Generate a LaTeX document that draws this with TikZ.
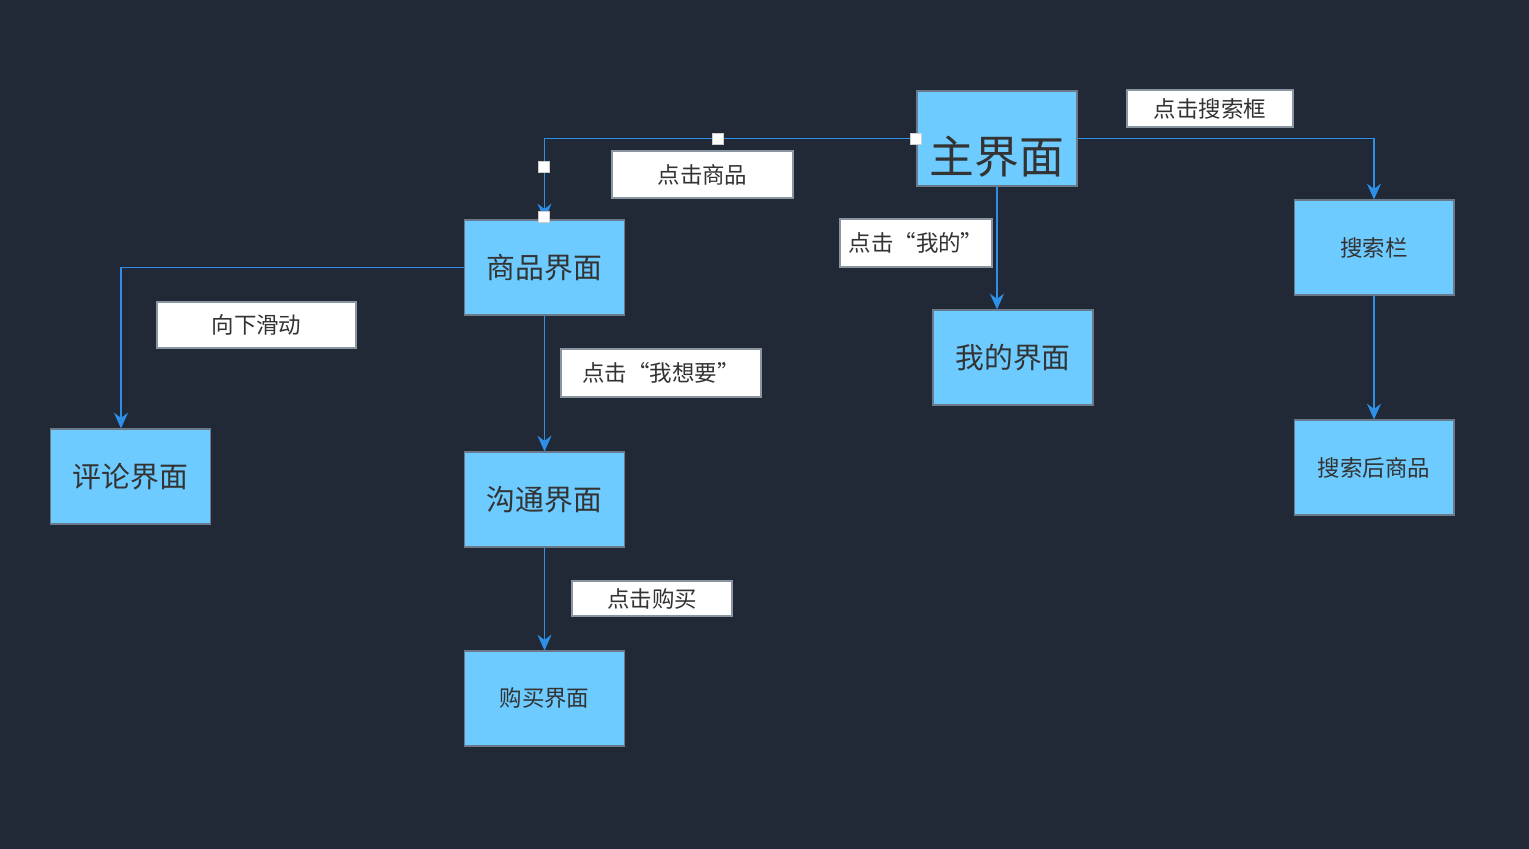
\documentclass[tikz,border=0pt]{standalone}
\usepackage{fontspec}
\setmainfont{Noto Sans CJK SC}
\usepackage{tikz}
\usetikzlibrary{arrows.meta}

\definecolor{bgdark}{HTML}{212836}
\definecolor{boxblue}{HTML}{6ECBFF}
\definecolor{boxline}{HTML}{6B7A8A}
\definecolor{linkblue}{HTML}{2E8FE6}
\definecolor{txtgray}{HTML}{333333}

\begin{document}
\begin{tikzpicture}[x=0.02cm, y=-0.02cm,
	every node/.style={text=txtgray, inner sep=0pt},
	screen/.style={draw=boxline, line width=0.6pt, fill=boxblue, minimum width=3.2cm, minimum height=1.9cm},
	tag/.style={draw=boxline!80, line width=0.8pt, fill=white, font=\fontsize{12.8}{15}\selectfont},
	link/.style={draw=linkblue, line width=0.9pt, -{Stealth[length=9pt, width=8pt, inset=3pt]}},
	handle/.style={draw=gray!40, line width=0.6pt, fill=white, minimum size=0.22cm}]
	\useasboundingbox[fill=bgdark] (0,0) rectangle (1529,849);
	% screens
	\node[screen] (zhu) at (997,138.5) {};
	\node[font=\fontsize{25.5}{28}\selectfont] (zhutext) at (997,157) {主界面};
	\node[screen, font=\fontsize{16.4}{19}\selectfont] (shangpin) at (544.5,267.5) {商品界面};
	\node[screen, font=\fontsize{16.4}{19}\selectfont] (pinglun) at (130.5,476.5) {评论界面};
	\node[screen, font=\fontsize{16.4}{19}\selectfont] (goutong) at (544.5,499.5) {沟通界面};
	\node[screen, font=\fontsize{12.8}{15}\selectfont] (goumai) at (544.5,698.5) {购买界面};
	\node[screen, font=\fontsize{16.4}{19}\selectfont] (wode) at (1013,357.5) {我的界面};
	\node[screen, font=\fontsize{12.8}{15}\selectfont] (sousuo) at (1374,247.5) {搜索栏};
	\node[screen, font=\fontsize{12.8}{15}\selectfont] (houshang) at (1374,467.5) {搜索后商品};
	% labels
	\node[tag, minimum width=3.32cm, minimum height=0.74cm] (tsousuo) at (1210,108.5) {点击搜索框};
	\node[tag, minimum width=3.62cm, minimum height=0.94cm] (tshangpin) at (702.5,174.5) {点击商品};
	\node[tag, minimum width=3.04cm, minimum height=0.96cm] (twode) at (916,243) {点击“我的”};
	\node[tag, minimum width=3.98cm, minimum height=0.92cm] (tpinglun) at (256.5,325) {向下滑动};
	\node[tag, minimum width=4.0cm, minimum height=0.96cm] (tgoutong) at (661,373) {点击“我想要”};
	\node[tag, minimum width=3.2cm, minimum height=0.7cm] (tgoumai) at (652,598.5) {点击购买};
	% connectors
	\draw[link] (zhu.west) -| (shangpin.north);
	\draw[link] (zhu.east) -| (sousuo.north);
	\draw[link] (zhu.south) -- (zhu.south |- wode.north);
	\draw[link] (shangpin.west) -| (pinglun.north -| 121,0);
	\draw[link] (shangpin.south) -- (goutong.north);
	\draw[link] (goutong.south) -- (goumai.north);
	\draw[link] (sousuo.south) -- (houshang.north);
	% selection handles
	\node[handle] (h1) at (718,139) {};
	\node[handle] (h2) at (916,139) {};
	\node[handle] (h3) at (544,167) {};
	\node[handle] (h4) at (544,217) {};
\end{tikzpicture}
\end{document}
